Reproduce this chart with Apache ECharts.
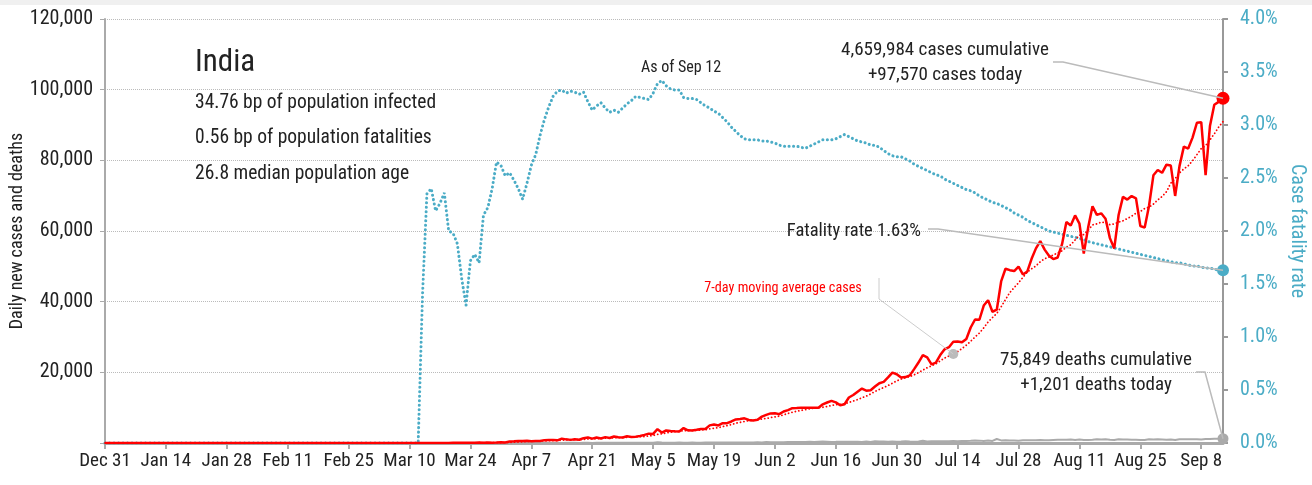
<!DOCTYPE html>
<html>
<head>
<meta charset="utf-8">
<script src="https://cdn.jsdelivr.net/npm/echarts@6.0.0/dist/echarts.min.js"></script>
<style>
  html, body { margin: 0; padding: 0; background: #fff; }
  #chart { width: 1312px; height: 485px; }
</style>
</head>
<body>
<div id="chart"></div>
<script>
// daily new cases, Dec 31 .. Sep 13 (one value per day)
const cases = [
  0,0,0,0,0,0,0,0,0,0, 0,0,0,0,0,0,0,0,0,0, 0,0,0,0,0,0,0,0,0,0,
  0,1,0,0,1,1,0,0,0,0, 0,0,0,0,0,0,0,0,0,0, 0,0,0,0,0,0,0,0,0,0, 0,0,
  0,3,1,22,2,1,3,5,4,13,12,11,6,20,17,12,23,14,38,50,86,66,103,37,121,70,160,100,112,227,146,
  424,486,560,579,609,484,573,565,813,871,854,758,1243,1031,886,1061,922,1371,1580,1239,1537,1292,1667,1408,1835,1607,1568,1902,1705,1801,
  1993,2293,2644,2573,3900,2958,3561,3390,3320,3277,4213,3604,3525,3722,3967,3970,4987,5242,4970,5611,5609,6088,6654,6767,6977,6535,6387,6566,7466,7964,8380,
  8392,8171,8909,9304,9851,9887,9971,9983,9987,9985,9996,10956,11458,11929,11502,10667,10974,12881,13586,14516,15413,14821,14933,15968,16922,17296,18552,19906,19459,18522,
  18653,19148,20903,22771,24850,24248,22252,22752,24879,26506,27114,28637,28701,28498,29429,32695,34956,34884,38902,40425,37148,37724,45720,49310,48916,48661,49931,47703,48513,52123,55079,
  57118,54735,52972,52050,52509,56282,62538,61537,64399,62064,53601,60963,66999,64553,65002,63490,57981,55079,64531,69652,68898,69878,69239,61408,60975,67151,75760,77266,76472,78761,78512,
  69921,78357,83883,83341,86432,90632,90802,75809,89706,95735,96551,97570
];

// 7-day moving average of cases
const ma7 = [
  0,0,0,0,0,0,0,0,0,0, 0,0,0,0,0,0,0,0,0,0, 0,0,0,0,0,0,0,0,0,0,
  0,0,0,0,0,0,0,0,0,0, 0,0,0,0,0,0,0,0,0,0, 0,0,0,0,0,0,0,0,0,0, 0,0,
  0,0,1,4,4,4,5,5,5,7,6,7,8,10,12,13,14,15,19,25,34,41,54,56,72,76,92,94,100,118,134,
  177,236,294,362,433,470,531,551,598,642,681,703,811,876,922,958,965,1039,1156,1156,1228,1286,1373,1442,1508,1512,1559,1611,1670,1689,
  1773,1838,1987,2130,2416,2595,2846,3046,3192,3283,3517,3475,3556,3579,3661,3754,3998,4145,4340,4638,4908,5211,5594,5849,6097,6320,6431,6568,6765,6952,7182,
  7384,7618,7978,8369,8710,8985,9212,9439,9699,9853,9951,10109,10334,10613,10830,10928,11069,11481,11857,12294,12791,13265,13875,14588,15166,15696,16272,16914,17577,18089,
  18473,18791,19306,19909,20615,21299,21832,22418,23236,24037,24657,25198,25834,26727,27681,28797,30004,31114,32581,34256,35491,36676,38537,40588,42592,43986,45344,46852,48393,49308,50132,
  51304,52172,52606,53227,53798,54392,55458,56089,57470,58768,58990,60198,61729,62017,62512,62382,61798,62010,62519,62898,63519,64216,65037,65526,66369,66743,67616,68811,69753,71113,73557,
  74835,76436,77596,78464,79887,81583,83338,84179,85801,87494,89381,90972
];

// daily deaths
const deaths = [
  0,0,0,0,0,0,0,0,0,0, 0,0,0,0,0,0,0,0,0,0, 0,0,0,0,0,0,0,0,0,0,
  0,0,0,0,0,0,0,0,0,0, 0,0,0,0,0,0,0,0,0,0, 0,0,0,0,0,0,0,0,0,0,
  0,0,0,0,0,0,0,0,0,0, 0,0,0,
  1,1,0,0,0,1,0,1,0,1,3,2,1,1,3,4,2,6,3,3,
  3,15,12,14,16,32,8,35,17,33,35,35,31,51,41,38,28,43,36,31,47,36,37,56,57,40,50,62,73,71,
  77,83,83,68,195,126,89,103,95,128,97,87,134,100,103,120,120,157,134,140,132,148,137,147,154,146,170,194,175,265,193,
  230,204,217,260,273,294,287,266,331,279,357,396,386,311,325,380,343,334,336,375,306,445,312,465,418,407,384,410,380,418,
  507,434,379,442,613,425,467,482,487,475,519,551,500,553,582,606,687,671,543,681,587,1129,740,757,705,708,654,768,775,779,764,
  853,771,803,857,904,886,933,1007,861,1007,871,834,942,1092,996,1092,941,876,1092,977,983,945,912,836,848,1059,1023,1057,1021,948,971,
  819,1045,1043,1096,1089,1065,1016,1133,1115,1172,1209,1201
];

// case fatality rate, percent
const cfr = [
  0,0,0,0,0,0,0,0,0,0, 0,0,0,0,0,0,0,0,0,0, 0,0,0,0,0,0,0,0,0,0,
  0,0,0,0,0,0,0,0,0,0, 0,0,0,0,0,0,0,0,0,0, 0,0,0,0,0,0,0,0,0,0,
  0,0,0,0,0,0,0,0,0,0, 0,0,0,
  1.40,2.35,2.40,2.19,2.26,2.36,2.00,1.98,1.88,1.55,1.30,1.72,1.78,1.70,2.15,2.22,2.40,2.65,2.62,2.52,
  2.55,2.48,2.40,2.30,2.45,2.62,2.72,2.90,3.05,3.17,3.27,3.32,3.33,3.30,3.32,3.31,3.29,3.31,3.22,3.14,3.18,3.21,3.16,3.12,3.14,3.12,3.16,3.20,3.23,3.27,
  3.26,3.25,3.24,3.30,3.39,3.42,3.37,3.34,3.33,3.33,3.26,3.25,3.25,3.24,3.21,3.18,3.16,3.13,3.11,3.07,3.03,2.98,2.94,2.90,2.87,2.86,2.86,2.86,2.85,2.85,2.84,
  2.83,2.81,2.80,2.80,2.80,2.80,2.79,2.78,2.80,2.82,2.84,2.86,2.86,2.86,2.87,2.89,2.91,2.89,2.87,2.85,2.84,2.83,2.81,2.81,2.79,2.76,2.73,2.71,2.70,2.70,
  2.68,2.66,2.63,2.61,2.59,2.57,2.55,2.53,2.52,2.49,2.47,2.45,2.43,2.41,2.39,2.38,2.36,2.33,2.31,2.29,2.27,2.26,2.24,2.22,2.20,2.17,2.15,2.13,2.10,2.08,2.06,
  2.04,2.02,2.00,1.99,1.98,1.97,1.96,1.95,1.94,1.93,1.92,1.90,1.89,1.88,1.87,1.86,1.85,1.84,1.83,1.82,1.81,1.80,1.79,1.78,1.77,1.76,1.75,1.74,1.73,1.72,1.71,
  1.70,1.70,1.69,1.68,1.67,1.67,1.66,1.65,1.65,1.64,1.63,1.63
];

const infoLines = [
  '34.76 bp of population infected',
  '0.56 bp of population fatalities',
  '26.8 median population age'
];
const caseNote = ['4,659,984 cases cumulative', '+97,570 cases today'];
const deathNote = ['75,849 deaths cumulative', '+1,201 deaths today'];
const cfrNote = 'Fatality rate 1.63%';
const maNote = '7-day moving average cases';
const maNoteIdx = 195;

const MONTHS = ['Jan','Feb','Mar','Apr','May','Jun','Jul','Aug','Sep','Oct','Nov','Dec'];
const dates = [];
for (let i = 0, d = new Date(Date.UTC(2019, 11, 31)); i < cases.length; i++) {
  dates.push(MONTHS[d.getUTCMonth()] + ' ' + d.getUTCDate());
  d.setUTCDate(d.getUTCDate() + 1);
}
const last = cases.length - 1;

const FONT = '"Roboto Condensed", "DejaVu Sans Condensed", sans-serif';
const TEAL = '#4bacc6';
const RED = '#ff0000';

const chart = echarts.init(document.getElementById('chart'));

function dot(color, size, coord) {
  return {
    symbol: 'circle', symbolSize: size, silent: true,
    label: { show: false },
    itemStyle: { color: color },
    data: [{ coord: coord }]
  };
}

chart.setOption({
  animation: false,
  textStyle: { fontFamily: FONT },
  grid: { left: 105, right: 89, top: 19, bottom: 42, outerBoundsMode: 'none' },
  xAxis: {
    type: 'category',
    data: dates,
    boundaryGap: false,
    axisLine: { lineStyle: { color: '#aaa', width: 3 } },
    axisTick: { interval: 13, length: 6, lineStyle: { color: '#aaa', width: 2 } },
    axisLabel: { interval: 13, showMinLabel: true, color: '#222', fontSize: 19, fontFamily: FONT, margin: 9 },
    splitLine: { show: false }
  },
  yAxis: [{
    type: 'value', min: 0, max: 120000, interval: 20000, position: 'left',
    name: 'Daily new cases and deaths', nameLocation: 'middle', nameGap: 79, nameMoveOverlap: false,
    nameTextStyle: { color: '#222', fontSize: 18, fontFamily: FONT },
    axisLine: { show: true, lineStyle: { color: '#aaa', width: 2 } },
    axisTick: { show: true, length: 5, lineStyle: { color: '#aaa' } },
    axisLabel: {
      color: '#222', fontSize: 20, fontFamily: FONT, margin: 12,
      formatter: v => v === 0 ? '' : v.toLocaleString('en-US')
    },
    splitLine: { show: true, lineStyle: { color: '#bbb', type: 'dotted', width: 1 } }
  }, {
    type: 'value', min: 0, max: 4, interval: 0.5, position: 'right',
    name: 'Case fatality rate', nameLocation: 'middle', nameGap: 64, nameRotate: -90, nameMoveOverlap: false,
    nameTextStyle: { color: TEAL, fontSize: 20, fontFamily: FONT },
    axisLine: { show: true, lineStyle: { color: '#999', width: 2 } },
    axisTick: { show: true, length: 5, lineStyle: { color: '#999', width: 2 } },
    axisLabel: { color: TEAL, fontSize: 20, fontFamily: FONT, margin: 17, formatter: v => v.toFixed(1) + '%' },
    splitLine: { show: false }
  }],
  series: [{
    name: 'Case fatality rate', type: 'line', yAxisIndex: 1, data: cfr,
    symbol: 'none', silent: true,
    lineStyle: { color: TEAL, width: 3, type: [0.1, 4.4], cap: 'round' },
    markPoint: dot(TEAL, 12, [last, cfr[last]])
  }, {
    name: 'Deaths', type: 'line', data: deaths,
    symbol: 'none', silent: true,
    lineStyle: { color: '#aaa', width: 2 },
    markPoint: dot('#aaa', 11, [last, deaths[last]])
  }, {
    name: '7-day average', type: 'line', data: ma7,
    symbol: 'none', silent: true,
    lineStyle: { color: RED, width: 1.8, type: [0.1, 3.4], cap: 'round' },
    markPoint: dot('#bbb', 10, [maNoteIdx, ma7[maNoteIdx]])
  }, {
    name: 'Cases', type: 'line', data: cases,
    symbol: 'none', silent: true,
    lineStyle: { color: RED, width: 2.5 },
    markPoint: dot(RED, 13, [last, cases[last]])
  }]
});

// annotations: text placed in the free space, leader lines ending at the data points
const pCase = chart.convertToPixel({ seriesIndex: 3 }, [last, cases[last]]);
const pCfr = chart.convertToPixel({ seriesIndex: 0 }, [last, cfr[last]]);
const pDeath = chart.convertToPixel({ seriesIndex: 1 }, [last, deaths[last]]);
const pMa = chart.convertToPixel({ seriesIndex: 2 }, [maNoteIdx, ma7[maNoteIdx]]);

function txt(text, x, y, size, color, align) {
  return {
    type: 'text', silent: true, z: 10,
    style: {
      text: text, x: x, y: y, fill: color || '#222',
      fontSize: size, fontFamily: FONT,
      align: align || 'left', verticalAlign: 'middle'
    }
  };
}
function leader(points, color, width) {
  return {
    type: 'polyline', silent: true, z: 5,
    shape: { points: points },
    style: { stroke: color, lineWidth: width, fill: null }
  };
}

chart.setOption({
  graphic: [
    { type: 'rect', silent: true, shape: { x: 0, y: 0, width: 1312, height: 5 }, style: { fill: '#f0f0f0' } },
    txt('India', 195, 63, 31),
    txt(infoLines[0], 195, 103, 19.5),
    txt(infoLines[1], 195, 138, 19.5),
    txt(infoLines[2], 195, 174, 19.5),
    txt('As of Sep 12', 681, 68, 16, '#222', 'center'),
    txt(caseNote[0], 945, 50, 19, '#222', 'center'),
    txt(caseNote[1], 945, 75, 19, '#222', 'center'),
    leader([[1053, 62], [1063, 62], pCase], '#bbb', 1.5),
    txt(cfrNote, 921, 231, 18.5, '#222', 'right'),
    leader([[928, 229], [938, 229], pCfr], '#bbb', 1.5),
    txt(maNote, 783, 288, 14.2, RED, 'center'),
    leader([[879, 278], [879, 299], pMa], '#ccc', 1),
    txt(deathNote[0], 1096, 360, 19, '#222', 'center'),
    txt(deathNote[1], 1096, 385, 19, '#222', 'center'),
    leader([[1196, 372], [1205, 372], pDeath], '#bbb', 1.5)
  ]
});
</script>
</body>
</html>
